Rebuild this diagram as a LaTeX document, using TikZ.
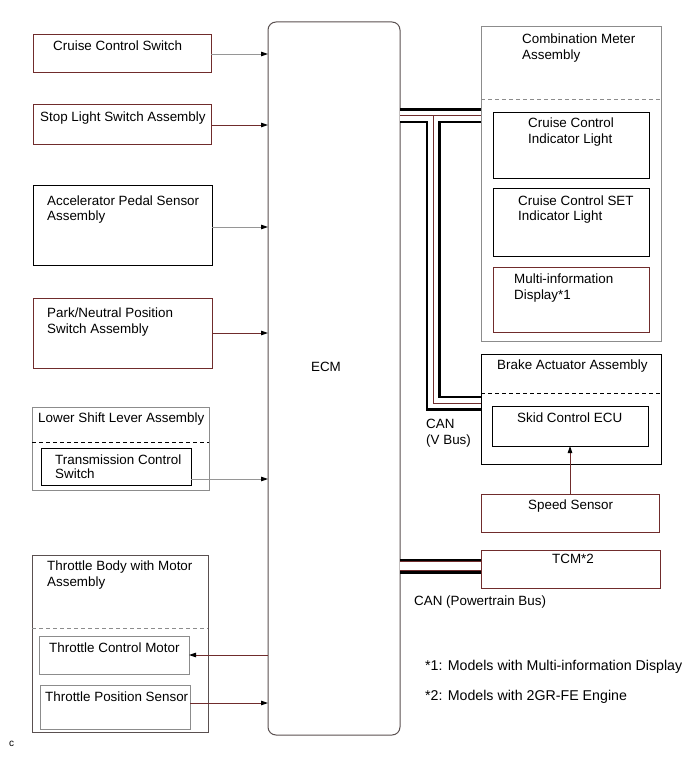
\documentclass[tikz,border=0pt]{standalone}
\usepackage{fontspec}
\setmainfont{Liberation Sans}
\usetikzlibrary{arrows.meta,positioning,calc}
\definecolor{wirered}{RGB}{112,44,44}
\definecolor{wiregray}{RGB}{150,150,150}
\definecolor{boxgray}{RGB}{140,140,140}
\definecolor{boxdark}{RGB}{90,80,80}

\begin{document}
\begin{tikzpicture}[x=1pt,y=-1pt,font=\fontsize{13.4}{16}\selectfont,
  blk/.style={draw=#1,line width=1pt,anchor=north west,inner sep=0pt,outer sep=0pt},
  blk/.default=black,
  lbl/.style={anchor=base west,align=left,inner sep=0pt},
  sig/.style={-{Triangle[length=7pt,width=4.5pt,color=black]},line width=0.9pt,draw=#1},
  sig/.default=wiregray,
  part/.style={dash pattern=on 4pt off 3pt,line width=0.9pt,draw=#1},
  busout/.style={line width=15pt,black},
  busin/.style={line width=9.5pt,white}]
  \useasboundingbox (0,0) rectangle (690,759);
  % ECM
  \node[blk=boxdark,rounded corners=8pt,minimum width=132,minimum height=713] (ecm) at (268,22) {};
  \node[anchor=base,inner sep=0pt] (ecmtxt) at (326,371) {ECM};
  % inputs / outputs on the left (base of a two-line label = its last line)
  \node[blk=wirered,minimum width=178,minimum height=38] (css) at (33,35) {};
  \node[blk=wirered,minimum width=178,minimum height=40] (sls) at (33,105) {};
  \node[blk,minimum width=179,minimum height=79] (aps) at (33,186) {};
  \node[blk=wirered,minimum width=179,minimum height=70] (pnp) at (33,298) {};
  \node[blk=boxgray,minimum width=177,minimum height=83] (lsl) at (32,407) {};
  \node[blk,minimum width=150,minimum height=37] (tcs) at (41,448) {};
  \node[blk=boxdark,minimum width=176,minimum height=177] (tbm) at (32,555) {};
  \node[blk=boxgray,minimum width=150,minimum height=38] (tcmot) at (39,636) {};
  \node[blk=boxgray,minimum width=150,minimum height=44] (tps) at (40,685) {};
  \draw[part=black] (lsl.west |- 0,442) -- (lsl.east |- 0,442);
  \draw[part=boxgray] (tbm.west |- 0,628) -- (tbm.east |- 0,628);
  \node[lbl] (csstxt) at (53,51) {Cruise Control Switch};
  \node[lbl] (slstxt) at (40,122) {Stop Light Switch Assembly};
  \node[lbl] (apstxt) at (47,221) {Accelerator Pedal Sensor\\Assembly};
  \node[lbl] (pnptxt) at (47,333) {Park/Neutral Position\\Switch Assembly};
  \node[lbl] (lsltxt) at (38,422) {Lower Shift Lever Assembly};
  \node[lbl] (tcstxt) at (55,478.5) {Transmission Control\\[-2pt]Switch};
  \node[lbl] (tbmtxt) at (47,586) {Throttle Body with Motor\\Assembly};
  \node[lbl] (tcmottxt) at (49,652) {Throttle Control Motor};
  \node[lbl] (tpstxt) at (45,701) {Throttle Position Sensor};
  \draw[sig] (css.east) -- (css.east -| ecm.west);
  \draw[sig=wirered] (sls.east) -- (sls.east -| ecm.west);
  \draw[sig] (aps.east |- 0,227) -- (ecm.west |- 0,227);
  \draw[sig=wirered] (pnp.east) -- (pnp.east -| ecm.west);
  \draw[sig] (tcs.east |- 0,479) -- (ecm.west |- 0,479);
  \draw[sig=wirered] (ecm.west |- tcmot.east) -- (tcmot.east);
  \draw[sig=wirered] (tps.east |- 0,703) -- (ecm.west |- 0,703);
  % CAN buses
  \draw[busout] (ecm.east |- 0,116) -- (481,116) (433,116) -- (433,403) -- (481,403);
  \draw[busin] (ecm.east |- 0,116) -- (481,116) (433,116) -- (433,403) -- (481,403);
  \draw[line width=1pt,wirered] (ecm.east |- 0,116) -- (481,116) (433,116) -- (433,403) -- (481,403);
  \draw[busout] (ecm.east |- 0,566) -- (481,566);
  \draw[line width=9.5pt,wirered] (ecm.east |- 0,566) -- (481,566);
  \draw[line width=7.5pt,white] (ecm.east |- 0,566) -- (481,566);
  % right side
  \node[blk=boxgray,minimum width=180,minimum height=314] (cma) at (481,27) {};
  \node[blk,minimum width=156,minimum height=66] (ccil) at (493,113) {};
  \node[blk,minimum width=156,minimum height=67] (setl) at (493,189) {};
  \node[blk=wirered,minimum width=156,minimum height=65] (mid) at (493,267) {};
  \node[blk,minimum width=180,minimum height=110] (brk) at (481,354) {};
  \node[blk,minimum width=156,minimum height=40] (skid) at (492,406) {};
  \node[blk=wirered,minimum width=178,minimum height=38] (spd) at (481,494) {};
  \node[blk=wirered,minimum width=179,minimum height=38] (tcm) at (481,550) {};
  \draw[part=boxgray] (cma.west |- 0,99) -- (cma.east |- 0,99);
  \draw[part=black] (brk.west |- 0,393) -- (brk.east |- 0,393);
  \node[lbl] (cmatxt) at (522,60) {Combination Meter\\Assembly};
  \node[lbl] (cciltxt) at (528,144) {Cruise Control\\Indicator Light};
  \node[lbl] (setltxt) at (518,221) {Cruise Control SET\\Indicator Light};
  \node[lbl] (midtxt) at (514,299) {Multi-information\\Display*1};
  \node[lbl] (brktxt) at (497,369) {Brake Actuator Assembly};
  \node[lbl] (skidtxt) at (517,422) {Skid Control ECU};
  \node[lbl] (spdtxt) at (528,509) {Speed Sensor};
  \node[lbl] (tcmtxt) at (552,563) {TCM*2};
  \draw[sig=wirered] (spd.north) -- (skid.south);
  % notes
  \node[lbl] (cantxt) at (426,444) {CAN\\(V Bus)};
  \node[lbl] (canpttxt) at (414,605) {CAN (Powertrain Bus)};
  \node[lbl,font=\fontsize{14.2}{16}\selectfont] (note1) at (425,670) {*1: Models with Multi-information Display};
  \node[lbl,font=\fontsize{14.2}{16}\selectfont] (note2) at (425,700) {*2: Models with 2GR-FE Engine};
  \node[lbl,font=\fontsize{10}{12}\selectfont] (fig) at (9,746) {c};
\end{tikzpicture}
\end{document}
